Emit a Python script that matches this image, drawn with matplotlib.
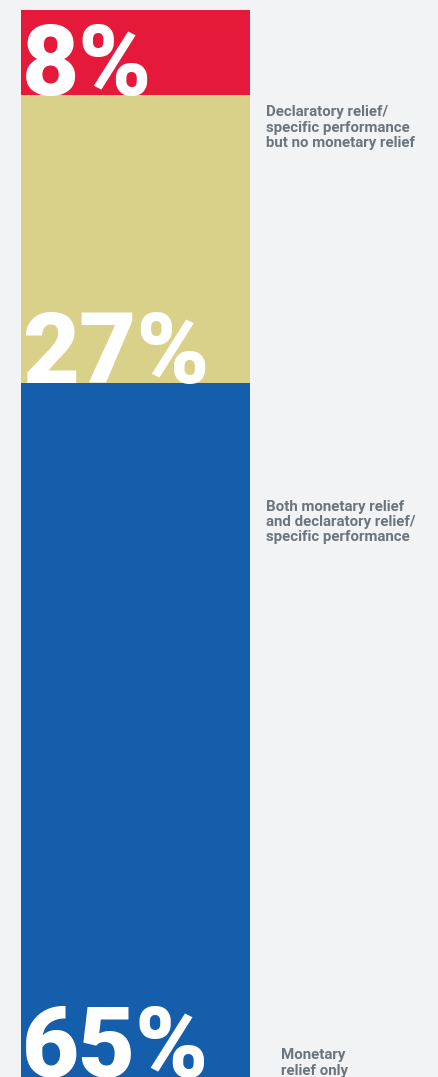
import matplotlib
matplotlib.use("Agg")
import matplotlib.pyplot as plt

# Share of outcomes, stacked top to bottom
shares = [8, 27, 65]
share_labels = ["8%", "27%", "65%"]
colors = ["#e5193a", "#d9d08a", "#155eab"]
side_labels = [
    "Declaratory relief/\nspecific performance\nbut no monetary relief",
    "Both monetary relief\nand declaratory relief/\nspecific performance",
    "Monetary\nrelief only",
]

W, H = 438, 1077
fig = plt.figure(figsize=(W / 100, H / 100), dpi=100)
fig.patch.set_facecolor("#f2f3f5")

bar_left, bar_right, bar_top = 21, 250, 10
ax = fig.add_axes([bar_left / W, 0, (bar_right - bar_left) / W, (H - bar_top) / H])
ax.set_xlim(0, 1)
ax.set_ylim(100, 0)
ax.axis("off")

bottom = 0
bottoms = []
for v, c in zip(shares, colors):
    ax.bar(0, v, bottom=bottom, width=1, align="edge", color=c, linewidth=0)
    bottom += v
    bottoms.append(bottom)

for lab, b in zip(share_labels, bottoms):
    ax.text(0.005, b, lab, color="white", fontsize=71, fontweight="heavy",
            family="Roboto", ha="left", va="baseline")

# Side annotations
label_pos = [(1.07, 8.95), (1.07, 45.9), (1.135, 97.3)]
for txt, (x, y) in zip(side_labels, label_pos):
    ax.text(x, y, txt, color="#6b757d", fontsize=10.8, fontweight="bold",
            family="Roboto", ha="left", va="top", linespacing=1.12,
            clip_on=False)

fig.savefig("out.png", dpi=100, facecolor=fig.get_facecolor())
